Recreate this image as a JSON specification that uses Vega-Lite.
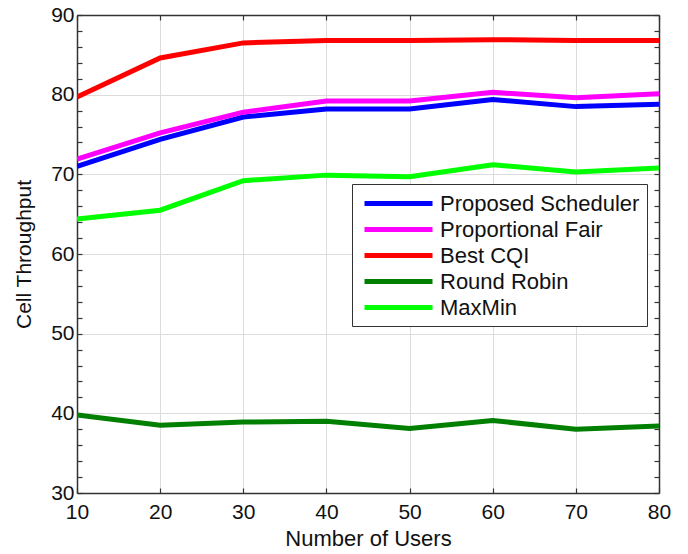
{
  "$schema": "https://vega.github.io/schema/vega-lite/v6.json",
  "width": 582,
  "height": 478,
  "autosize": {"type": "none"},
  "padding": {"left": 77, "top": 15, "right": 29, "bottom": 61},
  "background": "white",
  "config": {
    "font": "Liberation Sans",
    "view": {"stroke": null},
    "axis": {
      "domainColor": "#333333",
      "domainWidth": 1.5,
      "tickColor": "#333333",
      "tickWidth": 1.2,
      "tickSize": -5,
      "labelFont": "Liberation Sans",
      "labelFontSize": 21,
      "labelColor": "#111111",
      "labelFlush": false,
      "titleFont": "Liberation Sans",
      "titleFontSize": 21,
      "titleFontWeight": "normal",
      "titleColor": "#111111",
      "gridColor": "#dcdcdc",
      "gridWidth": 1
    }
  },
  "data": {
    "values": [
      {"users": 10, "scheme": "Proposed Scheduler", "throughput": 71.0},
      {"users": 20, "scheme": "Proposed Scheduler", "throughput": 74.4},
      {"users": 30, "scheme": "Proposed Scheduler", "throughput": 77.2},
      {"users": 40, "scheme": "Proposed Scheduler", "throughput": 78.2},
      {"users": 50, "scheme": "Proposed Scheduler", "throughput": 78.2},
      {"users": 60, "scheme": "Proposed Scheduler", "throughput": 79.4},
      {"users": 70, "scheme": "Proposed Scheduler", "throughput": 78.5},
      {"users": 80, "scheme": "Proposed Scheduler", "throughput": 78.8},
      {"users": 10, "scheme": "Proportional Fair", "throughput": 71.9},
      {"users": 20, "scheme": "Proportional Fair", "throughput": 75.2},
      {"users": 30, "scheme": "Proportional Fair", "throughput": 77.8},
      {"users": 40, "scheme": "Proportional Fair", "throughput": 79.2},
      {"users": 50, "scheme": "Proportional Fair", "throughput": 79.2},
      {"users": 60, "scheme": "Proportional Fair", "throughput": 80.3},
      {"users": 70, "scheme": "Proportional Fair", "throughput": 79.6},
      {"users": 80, "scheme": "Proportional Fair", "throughput": 80.1},
      {"users": 10, "scheme": "Best CQI", "throughput": 79.7},
      {"users": 20, "scheme": "Best CQI", "throughput": 84.6},
      {"users": 30, "scheme": "Best CQI", "throughput": 86.5},
      {"users": 40, "scheme": "Best CQI", "throughput": 86.8},
      {"users": 50, "scheme": "Best CQI", "throughput": 86.8},
      {"users": 60, "scheme": "Best CQI", "throughput": 86.9},
      {"users": 70, "scheme": "Best CQI", "throughput": 86.8},
      {"users": 80, "scheme": "Best CQI", "throughput": 86.8},
      {"users": 10, "scheme": "Round Robin", "throughput": 39.8},
      {"users": 20, "scheme": "Round Robin", "throughput": 38.5},
      {"users": 30, "scheme": "Round Robin", "throughput": 38.9},
      {"users": 40, "scheme": "Round Robin", "throughput": 39.0},
      {"users": 50, "scheme": "Round Robin", "throughput": 38.1},
      {"users": 60, "scheme": "Round Robin", "throughput": 39.1},
      {"users": 70, "scheme": "Round Robin", "throughput": 38.0},
      {"users": 80, "scheme": "Round Robin", "throughput": 38.4},
      {"users": 10, "scheme": "MaxMin", "throughput": 64.4},
      {"users": 20, "scheme": "MaxMin", "throughput": 65.5},
      {"users": 30, "scheme": "MaxMin", "throughput": 69.2},
      {"users": 40, "scheme": "MaxMin", "throughput": 69.9},
      {"users": 50, "scheme": "MaxMin", "throughput": 69.7},
      {"users": 60, "scheme": "MaxMin", "throughput": 71.2},
      {"users": 70, "scheme": "MaxMin", "throughput": 70.3},
      {"users": 80, "scheme": "MaxMin", "throughput": 70.8}
    ]
  },
  "resolve": {"axis": {"x": "independent", "y": "independent"}},
  "layer": [
    {
      "mark": {"type": "line", "strokeWidth": 5, "clip": true},
      "encoding": {
        "x": {
          "field": "users", "type": "quantitative",
          "scale": {"domain": [10, 80], "nice": false},
          "axis": {
            "orient": "bottom",
            "title": "Number of Users",
            "titleFontSize": 22,
            "values": [10, 20, 30, 40, 50, 60, 70, 80],
            "grid": true,
            "labelPadding": 13,
            "titlePadding": 6
          }
        },
        "y": {
          "field": "throughput", "type": "quantitative",
          "scale": {"domain": [30, 90], "nice": false, "zero": false},
          "axis": {
            "orient": "left",
            "title": "Cell Throughput",
            "values": [30, 32, 34, 36, 38, 40, 42, 44, 46, 48, 50, 52, 54, 56, 58, 60, 62, 64, 66, 68, 70, 72, 74, 76, 78, 80, 82, 84, 86, 88, 90],
            "labelExpr": "datum.value % 10 === 0 ? datum.label : ''",
            "grid": true,
            "gridOpacity": {"condition": {"test": "datum.value % 10 === 0", "value": 1}, "value": 0},
            "labelPadding": 8,
            "titlePadding": 16
          }
        },
        "color": {
          "field": "scheme", "type": "nominal",
          "scale": {
            "domain": ["Proposed Scheduler", "Proportional Fair", "Best CQI", "Round Robin", "MaxMin"],
            "range": ["#0000ff", "#ff00ff", "#ff0000", "#007f00", "#00ff00"]
          },
          "legend": {
            "orient": "none",
            "legendX": 275,
            "legendY": 169,
            "title": null,
            "symbolType": "M-0.7,0H6.1",
            "symbolSize": 400,
            "symbolStrokeWidth": 5,
            "symbolFillColor": "transparent",
            "labelFontSize": 22,
            "labelFont": "Liberation Sans",
            "labelColor": "#111111",
            "labelLimit": 400,
            "labelOffset": 56,
            "rowPadding": 2,
            "padding": 7,
            "strokeColor": "#333333",
            "fillColor": "white"
          }
        }
      }
    },
    {
      "mark": {"type": "line", "opacity": 0},
      "encoding": {
        "x": {
          "field": "users", "type": "quantitative",
          "scale": {"domain": [10, 80], "nice": false},
          "axis": {
            "orient": "top",
            "title": null,
            "values": [10, 20, 30, 40, 50, 60, 70, 80],
            "labels": false,
            "grid": false
          }
        },
        "y": {
          "field": "throughput", "type": "quantitative",
          "scale": {"domain": [30, 90], "nice": false, "zero": false},
          "axis": {
            "orient": "right",
            "title": null,
            "values": [30, 32, 34, 36, 38, 40, 42, 44, 46, 48, 50, 52, 54, 56, 58, 60, 62, 64, 66, 68, 70, 72, 74, 76, 78, 80, 82, 84, 86, 88, 90],
            "labels": false,
            "grid": false
          }
        },
        "detail": {"field": "scheme", "type": "nominal"}
      }
    }
  ]
}
